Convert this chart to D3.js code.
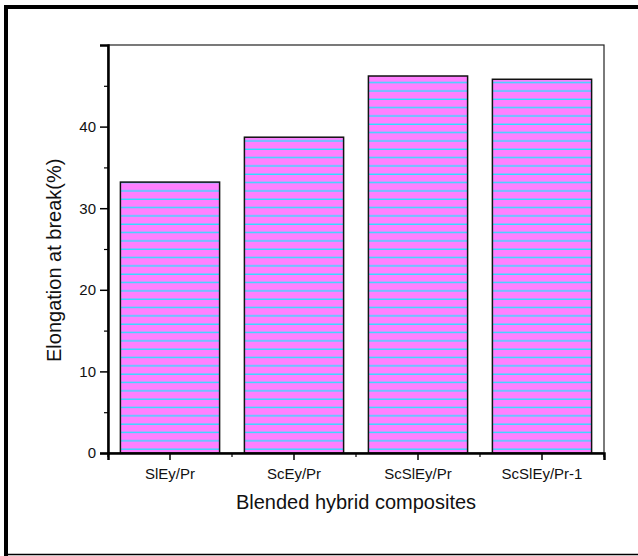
<!DOCTYPE html>
<html>
<head>
<meta charset="utf-8">
<script src="https://cdn.jsdelivr.net/npm/d3@7/dist/d3.min.js"></script>
<style>
  body { margin: 0; background: #fff; }
  svg { display: block; font-family: Arial, "Liberation Sans", sans-serif; }
</style>
</head>
<body>
<svg id="chart" width="638" height="556"></svg>
<script>
// data
var categories = ['SlEy/Pr', 'ScEy/Pr', 'ScSlEy/Pr', 'ScSlEy/Pr-1'];
var elongation = [33.2, 38.7, 46.2, 45.8];
var yTicks = [0, 10, 20, 30, 40];

var svg = d3.select('#chart');
var plotL = 108, plotR = 604, plotT = 45, plotB = 453;

var x = d3.scaleBand().domain(categories).range([plotL, plotR]).paddingInner(0.2).paddingOuter(0.1);
var y = d3.scaleLinear().domain([0, 50]).range([plotB, plotT]);

// striped fill
var defs = svg.append('defs');
var pat = defs.append('pattern')
  .attr('id', 'stripes')
  .attr('patternUnits', 'userSpaceOnUse')
  .attr('width', 20).attr('height', 8.33);
pat.append('rect').attr('width', 20).attr('height', 8.33).attr('fill', '#ff80ff');
pat.append('rect').attr('y', 7).attr('width', 20).attr('height', 1.3).attr('fill', '#22e4ff');

// outer frame
svg.append('line').attr('x1', 6).attr('x2', 6).attr('y1', 5).attr('y2', 556)
  .attr('stroke', '#000').attr('stroke-width', 4);
svg.append('line').attr('x1', 4).attr('x2', 638).attr('y1', 7).attr('y2', 7)
  .attr('stroke', '#000').attr('stroke-width', 4);
svg.append('line').attr('x1', 4).attr('x2', 638).attr('y1', 554.5).attr('y2', 554.5)
  .attr('stroke', '#000').attr('stroke-width', 1.5);

// plot box
svg.append('rect').attr('x', plotL).attr('y', plotT)
  .attr('width', plotR - plotL).attr('height', plotB - plotT)
  .attr('fill', 'none').attr('stroke', '#222').attr('stroke-width', 1.2);

// bars
svg.selectAll('.bar')
  .data(categories)
  .enter().append('rect')
  .attr('class', 'bar')
  .attr('x', function(d) { return x(d); })
  .attr('width', x.bandwidth())
  .attr('y', function(d, i) { return y(elongation[i]); })
  .attr('height', function(d, i) { return y(0) - y(elongation[i]); })
  .attr('fill', 'url(#stripes)')
  .attr('stroke', '#111')
  .attr('stroke-width', 1.5);

// y axis
var yAxis = svg.append('g')
  .attr('transform', 'translate(' + plotL + ',0)')
  .call(d3.axisLeft(y).tickValues(yTicks).tickSize(8).tickPadding(4).tickFormat(d3.format('d')));
yAxis.selectAll('.tick line').attr('stroke', '#000').attr('stroke-width', 1.5);
yAxis.select('.domain').attr('stroke', '#000').attr('stroke-width', 2.5);
yAxis.selectAll('text').attr('font-size', 15).attr('fill', '#111');

var yMinor = svg.append('g')
  .attr('transform', 'translate(' + plotL + ',0)')
  .call(d3.axisLeft(y).tickValues([5, 15, 25, 35, 45]).tickSize(4).tickFormat(''));
yMinor.select('.domain').remove();
yMinor.selectAll('.tick line').attr('stroke', '#000').attr('stroke-width', 1.2);

// x axis
var xAxis = svg.append('g')
  .attr('transform', 'translate(0,' + plotB + ')')
  .call(d3.axisBottom(x).tickSize(7).tickPadding(8));
xAxis.selectAll('.tick line').attr('stroke', '#000').attr('stroke-width', 1.5);
xAxis.select('.domain').attr('stroke', '#000').attr('stroke-width', 2.5);
xAxis.selectAll('text').attr('font-size', 15).attr('fill', '#111');

var bounds = d3.range(categories.length + 1).map(function(i) {
  return plotL + i * (plotR - plotL) / categories.length;
});
svg.append('g').selectAll('line')
  .data(bounds)
  .enter().append('line')
  .attr('x1', function(d) { return d; }).attr('x2', function(d) { return d; })
  .attr('y1', plotB).attr('y2', plotB + 4)
  .attr('stroke', '#000').attr('stroke-width', 1.2);

// axis titles
svg.append('text')
  .attr('x', (plotL + plotR) / 2).attr('y', 509)
  .attr('text-anchor', 'middle').attr('font-size', 20).attr('fill', '#111')
  .text('Blended hybrid composites');
svg.append('text')
  .attr('transform', 'translate(61,362) rotate(-90)')
  .attr('text-anchor', 'start').attr('font-size', 20).attr('fill', '#111')
  .text('Elongation at break(%)');
</script>
</body>
</html>
